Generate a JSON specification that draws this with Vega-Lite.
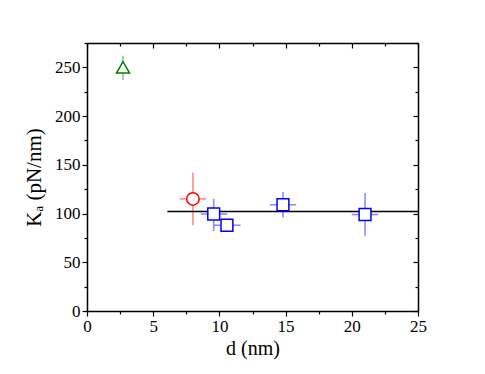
{
  "$schema": "https://vega.github.io/schema/vega-lite/v6.json",
  "width": 331,
  "height": 268,
  "autosize": "none",
  "padding": {"left": 87, "top": 43, "right": 67, "bottom": 63},
  "background": "white",
  "config": {
    "view": {"stroke": null},
    "font": "Liberation Serif",
    "axis": {
      "labelFont": "Times New Roman",
      "labelFontSize": 16,
      "labelColor": "#000",
      "titleFont": "Liberation Serif",
      "titleFontSize": 20,
      "titleFontWeight": "normal",
      "titleColor": "#000",
      "domainColor": "#000",
      "domainWidth": 1.5,
      "tickColor": "#000",
      "tickWidth": 1.2,
      "grid": false
    }
  },
  "datasets": {
    "pts": [
      {"series": "A", "x": 2.72, "y": 250, "xlo": 2.72, "xhi": 2.72, "ylo": 237, "yhi": 262},
      {"series": "B", "x": 8.0, "y": 115, "xlo": 7.0, "xhi": 9.0, "ylo": 88, "yhi": 142},
      {"series": "C", "x": 9.57, "y": 99.5, "xlo": 8.6, "xhi": 10.6, "ylo": 82, "yhi": 115},
      {"series": "C", "x": 10.57, "y": 88, "xlo": 9.6, "xhi": 11.6, "ylo": 84, "yhi": 92},
      {"series": "C", "x": 14.8, "y": 109, "xlo": 13.8, "xhi": 15.8, "ylo": 96, "yhi": 122},
      {"series": "C", "x": 21.0, "y": 99, "xlo": 20.0, "xhi": 22.0, "ylo": 77, "yhi": 121}
    ],
    "fit": [{"x1": 6.07, "x2": 25, "y": 102}]
  },
  "resolve": {"axis": {"x": "independent", "y": "independent"}},
  "layer": [
    {
      "data": {"name": "pts"},
      "mark": {"type": "rule", "strokeWidth": 1.6, "opacity": 0.45},
      "encoding": {
        "x": {
          "field": "x", "type": "quantitative",
          "scale": {"domain": [0, 25], "nice": false, "zero": false},
          "axis": {
            "orient": "bottom",
            "values": [0, 5, 10, 15, 20, 25],
            "tickSize": 5,
            "labelFontSize": 17,
            "labelPadding": 2,
            "labelFlush": false,
            "labelOverlap": false,
            "title": "d (nm)",
            "titlePadding": 4
          }
        },
        "y": {
          "field": "ylo", "type": "quantitative",
          "scale": {"domain": [0, 275], "nice": false, "zero": false},
          "axis": {
            "orient": "left",
            "values": [0, 50, 100, 150, 200, 250],
            "tickSize": 5,
            "labelFontSize": 17,
            "labelPadding": 2,
            "labelFlush": false,
            "labelOverlap": false,
            "title": "Kₐ (pN/nm)",
            "titleFontSize": 21,
            "titlePadding": 10
          }
        },
        "y2": {"field": "yhi"},
        "color": {
          "field": "series", "type": "nominal",
          "scale": {"domain": ["A", "B", "C"], "range": ["#008000", "#ff0000", "#0000ff"]},
          "legend": null
        }
      }
    },
    {
      "data": {"name": "pts"},
      "mark": {"type": "rule", "strokeWidth": 1.6, "opacity": 0.45},
      "encoding": {
        "x": {
          "field": "xlo", "type": "quantitative",
          "axis": {
            "orient": "top",
            "values": [0, 2.5, 5, 7.5, 10, 12.5, 15, 17.5, 20, 22.5, 25],
            "tickSize": {"condition": {"test": "datum.value % 5 === 0", "value": -5}, "value": -3},
            "labels": false,
            "title": null
          }
        },
        "x2": {"field": "xhi"},
        "y": {
          "field": "y", "type": "quantitative",
          "axis": {
            "orient": "right",
            "values": [0, 25, 50, 75, 100, 125, 150, 175, 200, 225, 250, 275],
            "tickSize": {"condition": {"test": "datum.value % 50 === 0", "value": -5}, "value": -3},
            "labels": false,
            "title": null
          }
        },
        "color": {"field": "series", "type": "nominal", "legend": null}
      }
    },
    {
      "data": {"name": "fit"},
      "mark": {"type": "rule", "color": "#000", "strokeWidth": 1.5},
      "encoding": {
        "x": {
          "field": "x1", "type": "quantitative",
          "axis": {"orient": "bottom", "values": [2.5, 7.5, 12.5, 17.5, 22.5], "tickSize": 3, "labels": false, "domain": false, "title": null}
        },
        "x2": {"field": "x2"},
        "y": {
          "field": "y", "type": "quantitative",
          "axis": {"orient": "left", "values": [25, 75, 125, 175, 225, 275], "tickSize": 3, "labels": false, "domain": false, "title": null}
        }
      }
    },
    {
      "data": {"name": "pts"},
      "mark": {"type": "point", "filled": false, "fill": "white", "fillOpacity": 1, "opacity": 1, "strokeWidth": 1.5},
      "encoding": {
        "x": {"field": "x", "type": "quantitative", "axis": null},
        "y": {"field": "y", "type": "quantitative", "axis": null},
        "color": {"field": "series", "type": "nominal", "legend": null},
        "shape": {
          "field": "series", "type": "nominal",
          "scale": {"domain": ["A", "B", "C"], "range": ["triangle-up", "circle", "square"]},
          "legend": null
        },
        "size": {
          "field": "series", "type": "nominal",
          "scale": {"domain": ["A", "B", "C"], "range": [170, 140, 85]},
          "legend": null
        }
      }
    }
  ]
}
